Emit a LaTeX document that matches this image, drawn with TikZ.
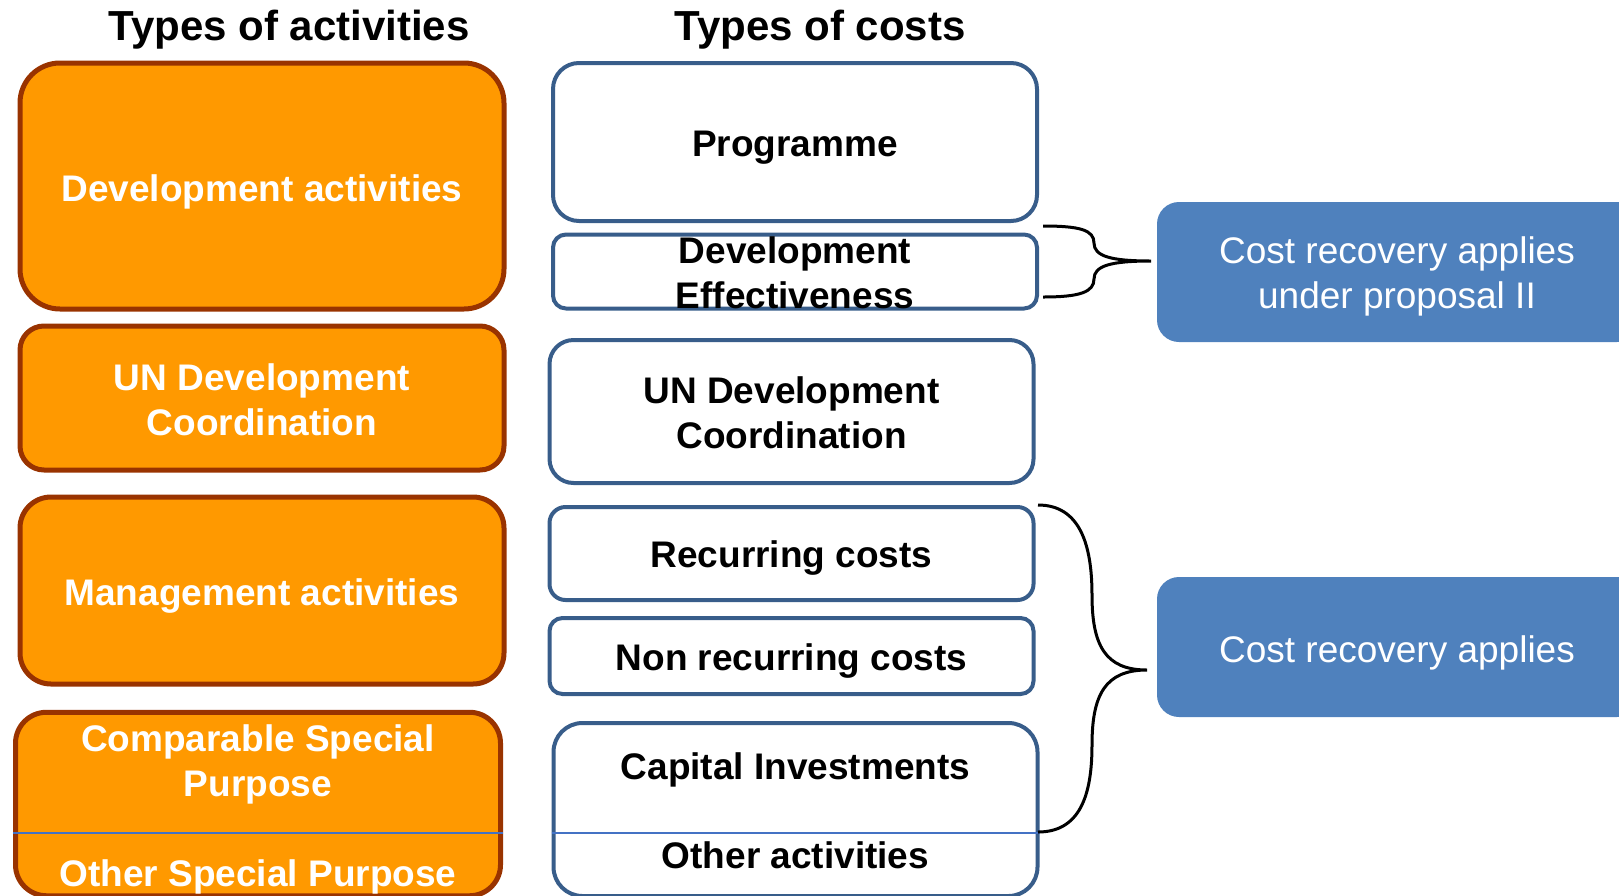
\documentclass[tikz,border=0pt]{standalone}
\usepackage{fontspec}
\setmainfont{Liberation Sans}
\definecolor{orng}{HTML}{FF9900}
\definecolor{obrd}{HTML}{993300}
\definecolor{bbrd}{HTML}{385D8A}
\definecolor{bfill}{HTML}{4F81BD}
\definecolor{divl}{HTML}{4472C4}
\tikzset{
 actbox/.style={draw=obrd, fill=orng, line width=5pt, rounded corners=#1, inner sep=0pt},
 costbox/.style={draw=bbrd, fill=white, line width=4pt, rounded corners=#1, inner sep=0pt},
 recbox/.style={fill=bfill, rounded corners=22pt, inner sep=0pt, minimum width=482pt, minimum height=140pt},
 wtxt/.style={text=white, font=\fontsize{37}{45}\selectfont\bfseries, align=center, inner sep=0pt},
 ktxt/.style={text=black, font=\fontsize{37}{45}\selectfont\bfseries, align=center, inner sep=0pt},
 rtxt/.style={text=white, font=\fontsize{37}{45}\selectfont, align=center, inner sep=0pt},
 headtxt/.style={font=\fontsize{42}{50}\selectfont\bfseries, inner sep=0pt},
 bracepath/.style={draw=black, line width=3pt},
 divider/.style={draw=divl, line width=1.8pt},
}
\begin{document}
\begin{tikzpicture}[x=1pt,y=-1pt]
\useasboundingbox (0,0) rectangle (1619,895);

% headers
\node[headtxt] (h1) at (289,30) {Types of activities};
\node[headtxt] (h2) at (820,30) {Types of costs};

% activity boxes
\node[actbox=40pt, minimum width=484pt, minimum height=246pt] (a1) at (262,186) {};
\node[wtxt] (a1t) at (262,192) {Development activities};
\node[actbox=24pt, minimum width=484pt, minimum height=144pt] (a2) at (262,398) {};
\node[wtxt] (a2t) at (262,400) {UN Development\\Coordination};
\node[actbox=31pt, minimum width=484pt, minimum height=187pt] (a3) at (262,590.5) {};
\node[wtxt] (a3t) at (262,596.5) {Management activities};
\node[actbox=31pt, minimum width=485pt, minimum height=183.5pt] (a4) at (258,804) {};
\draw[divider] (a4.west |- 0,833) -- (a4.east |- 0,833);
\node[wtxt] (a4t) at (258,764) {Comparable Special\\Purpose};
\node[wtxt] (a5t) at (258,877) {Other Special Purpose};

% cost boxes
\node[costbox=26pt, minimum width=484pt, minimum height=158pt] (c1) at (795,142) {};
\node[ktxt] (c1t) at (795,148) {Programme};
\node[costbox=13pt, minimum width=484pt, minimum height=74pt] (c2) at (795,271.5) {};
\node[ktxt] (c2t) at (795,273) {Development\\Effectiveness};
\node[costbox=24pt, minimum width=484pt, minimum height=143pt] (c3) at (791.5,411.5) {};
\node[ktxt] (c3t) at (791.5,413) {UN Development\\Coordination};
\node[costbox=16pt, minimum width=484pt, minimum height=93pt] (c4) at (791.5,553.5) {};
\node[ktxt] (c4t) at (791.5,558.5) {Recurring costs};
\node[costbox=13pt, minimum width=484pt, minimum height=76pt] (c5) at (791.5,656) {};
\node[ktxt] (c5t) at (791.5,661) {Non recurring costs};
\node[costbox=29pt, minimum width=484pt, minimum height=173pt] (c6) at (795.5,809.5) {};
\draw[divider] (c6.west |- 0,833) -- (c6.east |- 0,833);
\node[ktxt] (c6t) at (795.5,770) {Capital Investments};
\node[ktxt] (c7t) at (795.5,855) {Other activities};

% cost recovery boxes
\node[recbox] (r1) at (1398,272) {};
\node[rtxt] (r1t) at (1397,276) {Cost recovery applies\\under proposal II};
\node[recbox] (r2) at (1398,647) {};
\node[rtxt] (r2t) at (1397,652.5) {Cost recovery applies};

% braces
\coordinate (b1s) at (1043,226);
\coordinate (b1tip) at (1151,261);
\coordinate (b1e) at (1043,297);
\draw[bracepath] (b1s) .. controls (1080,226) and (1094,230) .. (1094,243)
  .. controls (1094,256) and (1110,261) .. (b1tip)
  .. controls (1110,261) and (1094,266) .. (1094,279)
  .. controls (1094,292) and (1080,297) .. (b1e);

\coordinate (b2s) at (1038,505);
\coordinate (b2tip) at (1147,670);
\coordinate (b2e) at (1038,832);
\draw[bracepath] (b2s) .. controls (1080,505) and (1092,545) .. (1092,595)
  .. controls (1092,645) and (1105,670) .. (b2tip)
  .. controls (1105,670) and (1092,695) .. (1092,745)
  .. controls (1092,795) and (1080,832) .. (b2e);
\end{tikzpicture}
\end{document}
